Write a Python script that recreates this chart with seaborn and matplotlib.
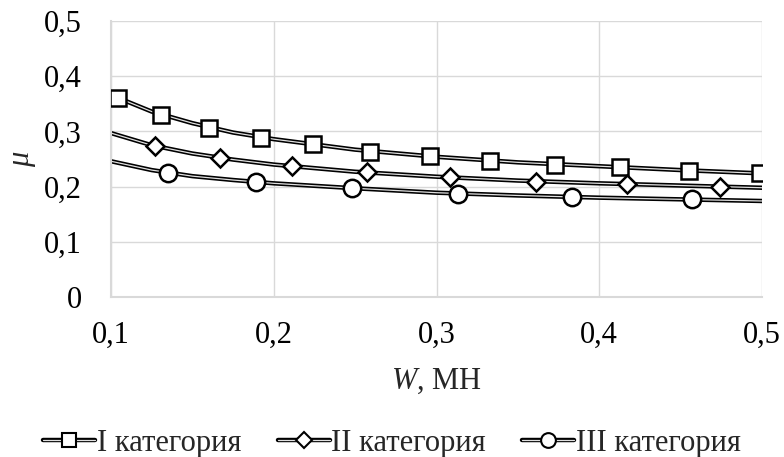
import matplotlib
matplotlib.use("Agg")
import matplotlib.pyplot as plt
import matplotlib.patheffects as pe
from matplotlib.legend_handler import HandlerTuple
from matplotlib.lines import Line2D
import seaborn as sns
import pandas as pd

# Measured points for each load category
x_cat1 = [0.104, 0.131, 0.160, 0.192, 0.224, 0.259, 0.296, 0.333, 0.373, 0.413, 0.455, 0.499]
mu_cat1 = [0.360, 0.330, 0.307, 0.289, 0.277, 0.263, 0.255, 0.247, 0.239, 0.235, 0.228, 0.225]

x_cat2 = [0.127, 0.167, 0.211, 0.257, 0.308, 0.361, 0.417, 0.474]
mu_cat2 = [0.274, 0.252, 0.237, 0.226, 0.217, 0.209, 0.205, 0.200]

x_cat3 = [0.135, 0.189, 0.248, 0.313, 0.383, 0.457]
mu_cat3 = [0.224, 0.209, 0.197, 0.187, 0.182, 0.178]

# Trend curves over the full load range
x_trend = [0.100, 0.125, 0.150, 0.175, 0.200, 0.250, 0.300, 0.350, 0.400, 0.450, 0.500]
trend_cat1 = [0.366, 0.336, 0.315, 0.298, 0.286, 0.267, 0.254, 0.244, 0.237, 0.230, 0.224]
trend_cat2 = [0.297, 0.275, 0.260, 0.249, 0.240, 0.227, 0.218, 0.211, 0.206, 0.202, 0.198]
trend_cat3 = [0.246, 0.230, 0.219, 0.212, 0.206, 0.197, 0.189, 0.184, 0.180, 0.177, 0.174]

labels = ["I категория", "II категория", "III категория"]
markers = ["s", "D", "o"]
marker_sizes = [12.0, 9.0, 12.5]

x_ticks = [0.1, 0.2, 0.3, 0.4, 0.5]
y_ticks = [0.0, 0.1, 0.2, 0.3, 0.4, 0.5]

sns.set_theme(style="white")
SERIF = ["Liberation Serif", "DejaVu Serif"]
plt.rcParams["font.family"] = SERIF
plt.rcParams["font.serif"] = SERIF
plt.rcParams["mathtext.fontset"] = "custom"
plt.rcParams["mathtext.it"] = "Liberation Serif:italic"
plt.rcParams["mathtext.rm"] = "Liberation Serif"

FS = 22

fig = plt.figure(figsize=(7.84, 4.57), dpi=100)
ax = fig.add_axes([0.1416, 0.35, 0.8304, 0.604])

grid_color = "#d9d9d9"
double_line = [pe.Stroke(linewidth=3.2, foreground="black"), pe.Normal()]

handles = []
series = [
    (x_cat1, mu_cat1, trend_cat1),
    (x_cat2, mu_cat2, trend_cat2),
    (x_cat3, mu_cat3, trend_cat3),
]
for (xs, ys, tr), lab, mk, ms in zip(series, labels, markers, marker_sizes):
    df_t = pd.DataFrame({"W": x_trend, "mu": tr})
    sns.lineplot(data=df_t, x="W", y="mu", ax=ax, color="#e0e0e0",
                 linewidth=0.9, path_effects=double_line, zorder=2,
                 legend=False)
    df_p = pd.DataFrame({"W": xs, "mu": ys})
    sns.lineplot(data=df_p, x="W", y="mu", ax=ax, linestyle="none",
                 marker=mk, markersize=ms, markerfacecolor="white",
                 markeredgecolor="black", markeredgewidth=1.8, zorder=3,
                 legend=False)
    h_line = Line2D([], [], color="#e0e0e0", linewidth=0.9,
                    path_effects=double_line)
    h_mark = Line2D([], [], linestyle="none", marker=mk,
                    markersize=ms * 0.85, markerfacecolor="white",
                    markeredgecolor="black", markeredgewidth=1.5)
    handles.append((h_line, h_mark))

ax.set_xlim(0.1, 0.5)
ax.set_ylim(0.0, 0.5)
ax.set_xticks(x_ticks)
ax.set_yticks(y_ticks)
ax.set_xticklabels([("%g" % v).replace(".", ",") for v in x_ticks],
                   family=SERIF)
ax.set_yticklabels([("%g" % v).replace(".", ",") for v in y_ticks],
                   family=SERIF)
ax.tick_params(axis="both", length=0, labelsize=FS, colors="black")
ax.tick_params(axis="y", pad=21)
ax.tick_params(axis="x", pad=17)

ax.grid(True, color=grid_color, linewidth=1.0)
ax.set_axisbelow(True)
for side, sp in ax.spines.items():
    if side in ("left", "bottom"):
        sp.set_color(grid_color)
        sp.set_linewidth(1.5)
    else:
        sp.set_visible(False)

ax.set_xlabel(r"$W$, МН", fontsize=FS, labelpad=12, family=SERIF)
ax.set_ylabel(r"$\mu$", fontsize=FS, labelpad=4, family=SERIF)

fig.legend(handles, labels, handler_map={tuple: HandlerTuple(ndivide=1)},
           loc="center", bbox_to_anchor=(0.5, 0.03), ncol=3, frameon=False,
           prop={"family": SERIF, "size": FS}, handlelength=1.7,
           handletextpad=0.05, columnspacing=1.2, borderpad=0.0)

fig.savefig("out.png", dpi=100)
